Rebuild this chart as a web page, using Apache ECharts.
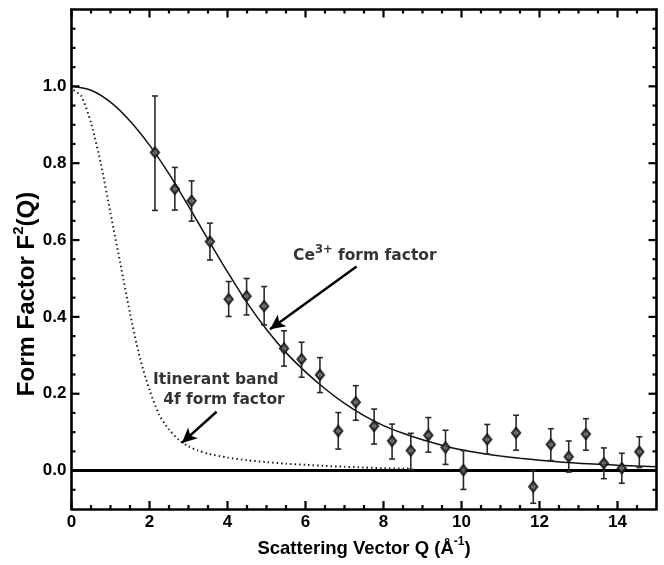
<!DOCTYPE html>
<html>
<head>
<meta charset="utf-8">
<script src="https://cdn.jsdelivr.net/npm/echarts@6/dist/echarts.min.js"></script>
<style>
html,body{margin:0;padding:0;background:#fff;}
#chart{width:664px;height:565px;}
</style>
</head>
<body>
<div id="chart"></div>
<script>
// ---- data ----
const qData   = [2.14, 2.65, 3.08, 3.55, 4.03, 4.49, 4.94, 5.45, 5.90, 6.37, 6.84, 7.29, 7.76, 8.22, 8.70, 9.15, 9.59, 10.05, 10.66, 11.40, 11.84, 12.29, 12.75, 13.19, 13.65, 14.11, 14.56];
const fData   = [0.828, 0.733, 0.702, 0.596, 0.446, 0.454, 0.428, 0.318, 0.290, 0.249, 0.103, 0.178, 0.116, 0.077, 0.052, 0.092, 0.060, 0.001, 0.081, 0.098, -0.042, 0.068, 0.036, 0.095, 0.019, 0.006, 0.049];
const errLow  = [0.677, 0.678, 0.649, 0.548, 0.401, 0.405, 0.379, 0.272, 0.243, 0.203, 0.056, 0.131, 0.069, 0.030, 0.003, 0.048, 0.016, -0.049, 0.043, 0.053, -0.085, 0.026, -0.004, 0.053, -0.021, -0.033, 0.008];
const errHigh = [0.975, 0.789, 0.754, 0.644, 0.492, 0.500, 0.479, 0.364, 0.334, 0.294, 0.151, 0.221, 0.160, 0.121, 0.097, 0.138, 0.105, 0.052, 0.120, 0.144, 0.000, 0.109, 0.077, 0.135, 0.059, 0.045, 0.088];

// Ce3+ form factor curve (solid)
const ceQ = [0, 0.5, 1.0, 1.5, 2.0, 2.5, 3.0, 3.5, 4.0, 4.5, 5.0, 5.5, 6.0, 6.5, 7.0, 7.5, 8.0, 8.5, 9.0, 9.5, 10.0, 10.5, 11.0, 11.5, 12.0, 13.0, 14.0, 15.0];
const ceF = [1.0, 0.99, 0.959, 0.91, 0.847, 0.772, 0.688, 0.602, 0.517, 0.437, 0.367, 0.307, 0.257, 0.213, 0.175, 0.143, 0.117, 0.097, 0.080, 0.066, 0.054, 0.045, 0.038, 0.032, 0.027, 0.019, 0.014, 0.010];

// Itinerant band 4f form factor (dotted)
const itQ = [0.05, 0.25, 0.5, 0.75, 1.0, 1.25, 1.5, 1.75, 2.0, 2.25, 2.5, 2.75, 3.0, 3.25, 3.5, 4.0, 4.5, 5.0, 5.5, 6.0, 6.5, 7.0, 7.5, 8.0, 8.7];
const itF = [0.99, 0.975, 0.905, 0.80, 0.67, 0.54, 0.41, 0.295, 0.21, 0.145, 0.107, 0.080, 0.063, 0.052, 0.044, 0.034, 0.027, 0.022, 0.018, 0.015, 0.012, 0.010, 0.008, 0.006, 0.005];

const zeroLineQ = [0, 15];

// axis ticks
const xMajor = [0, 2, 4, 6, 8, 10, 12, 14];
const xMinor = [0.5, 1, 1.5, 2.5, 3, 3.5, 4.5, 5, 5.5, 6.5, 7, 7.5, 8.5, 9, 9.5, 10.5, 11, 11.5, 12.5, 13, 13.5, 14.5];
const yMajor = [0, 0.2, 0.4, 0.6, 0.8, 1.0];
const yMinor = [-0.05, 0.05, 0.1, 0.15, 0.25, 0.3, 0.35, 0.45, 0.5, 0.55, 0.65, 0.7, 0.75, 0.85, 0.9, 0.95, 1.05, 1.1, 1.15];
const xRange = [0, 15];
const yRange = [-0.1, 1.2];

// annotation anchors (data coordinates)
const ceArrow = [[7.31, 0.531], [5.09, 0.368]];
const itArrow = [[3.72, 0.153], [2.83, 0.072]];
const ceLabelPos = [5.68, 0.559];
const itLabelPos1 = [2.09, 0.236];
const itLabelPos2 = [2.35, 0.184];

// ---- chart ----
const FONT = '"Liberation Sans", Arial, sans-serif';
const FONT2 = '"DejaVu Sans", sans-serif';
const MAJOR_LEN = 8, MINOR_LEN = 4;
const chart = echarts.init(document.getElementById('chart'), null, {renderer: 'canvas'});

function xAx(pos) {
  return {
    type: 'value', min: xRange[0], max: xRange[1], position: pos, interval: 2,
    axisLine: {show: true, onZero: false, lineStyle: {color: '#000', width: 2.6}},
    axisTick: {show: false},
    axisLabel: pos === 'bottom' ? {show: true, customValues: xMajor, color: '#000', fontFamily: FONT, fontWeight: 'bold', fontSize: 17, margin: 5}
                                : {show: false},
    splitLine: {show: false}
  };
}
function yAx(pos) {
  return {
    type: 'value', min: yRange[0], max: yRange[1], position: pos, interval: 0.1,
    axisLine: {show: true, onZero: false, lineStyle: {color: '#000', width: 2.6}},
    axisTick: {show: false},
    axisLabel: pos === 'left' ? {show: true, customValues: yMajor, color: '#000', fontFamily: FONT, fontWeight: 'bold', fontSize: 17, margin: 5,
                                  formatter: v => v.toFixed(1)}
                              : {show: false},
    splitLine: {show: false}
  };
}

// tick table built from the tick arrays: [value, isY, isMajor]
const tickData = []
  .concat(xMajor.map(v => [v, 0, 1]))
  .concat(xMinor.map(v => [v, 0, 0]))
  .concat(yMajor.map(v => [v, 1, 1]))
  .concat(yMinor.map(v => [v, 1, 0]));

const richBase = {
  b: {fontFamily: FONT2, fontWeight: 'bold', fontSize: 15.5, color: '#000', lineHeight: 24},
  s: {fontFamily: FONT2, fontWeight: 'bold', fontSize: 11.5, color: '#000', verticalAlign: 'top', lineHeight: 12}
};

const option = {
  animation: false,
  backgroundColor: '#fff',
  grid: {left: 71.5, right: 7.5, top: 9.5, bottom: 56},
  xAxis: [xAx('bottom'), xAx('top')],
  yAxis: [yAx('left'), yAx('right')],
  graphic: [
    {
      type: 'text', x: 364, y: 549,
      style: {
        text: '{b|Scattering Vector Q (Å}{s|-1}{b|)}',
        align: 'center', verticalAlign: 'middle',
        rich: {
          b: {fontFamily: FONT, fontWeight: 'bold', fontSize: 18.5, fill: '#000', lineHeight: 26},
          s: {fontFamily: FONT, fontWeight: 'bold', fontSize: 12, fill: '#000', verticalAlign: 'top', lineHeight: 12}
        }
      }
    },
    {
      type: 'text', x: 27, y: 294, rotation: Math.PI / 2,
      style: {
        text: '{b|Form Factor F}{s|2}{b|(Q)}',
        align: 'center', verticalAlign: 'middle',
        rich: {
          b: {fontFamily: FONT, fontWeight: 'bold', fontSize: 24, fill: '#000', lineHeight: 32},
          s: {fontFamily: FONT, fontWeight: 'bold', fontSize: 15, fill: '#000', verticalAlign: 'top', lineHeight: 15}
        }
      }
    }
  ],
  series: [
    {
      type: 'custom', name: 'ticks', xAxisIndex: 0, yAxisIndex: 0,
      data: tickData, clip: false, silent: true, z: 10,
      renderItem: function (params, api) {
        const v = api.value(0), isY = api.value(1), len = api.value(2) ? MAJOR_LEN : MINOR_LEN;
        const bl = api.coord([xRange[0], yRange[0]]);
        const tr = api.coord([xRange[1], yRange[1]]);
        const st = {stroke: '#000', lineWidth: 2.2};
        let a, b;
        if (!isY) {
          const x = api.coord([v, yRange[0]])[0];
          a = {x1: x, y1: bl[1], x2: x, y2: bl[1] - len};
          b = {x1: x, y1: tr[1], x2: x, y2: tr[1] + len};
        } else {
          const y = api.coord([xRange[0], v])[1];
          a = {x1: bl[0], y1: y, x2: bl[0] + len, y2: y};
          b = {x1: tr[0], y1: y, x2: tr[0] - len, y2: y};
        }
        return {type: 'group', children: [
          {type: 'line', shape: a, style: st},
          {type: 'line', shape: b, style: st}
        ]};
      }
    },
    {
      type: 'line', name: 'zero',
      data: zeroLineQ.map(q => [q, 0]),
      symbol: 'none', lineStyle: {color: '#000', width: 3}, z: 2, silent: true
    },
    {
      type: 'line', name: 'Ce3+',
      data: ceQ.map((q, i) => [q, ceF[i]]),
      smooth: 0.25, symbol: 'none', lineStyle: {color: '#111', width: 1.5}, z: 3, silent: true
    },
    {
      type: 'line', name: 'itinerant',
      data: itQ.map((q, i) => [q, itF[i]]),
      smooth: 0.25, symbol: 'none', lineStyle: {color: '#222', width: 2, type: [1.5, 3]}, z: 3, silent: true
    },
    {
      type: 'custom', name: 'err',
      data: qData.map((q, i) => [q, errLow[i], errHigh[i]]),
      renderItem: function (params, api) {
        const x = api.value(0);
        const lo = api.coord([x, api.value(1)]);
        const hi = api.coord([x, api.value(2)]);
        const w = 3;
        const st = {stroke: '#2a2a2a', lineWidth: 1.6};
        return {
          type: 'group',
          children: [
            {type: 'line', shape: {x1: lo[0], y1: lo[1], x2: hi[0], y2: hi[1]}, style: st},
            {type: 'line', shape: {x1: lo[0] - w, y1: lo[1], x2: lo[0] + w, y2: lo[1]}, style: st},
            {type: 'line', shape: {x1: hi[0] - w, y1: hi[1], x2: hi[0] + w, y2: hi[1]}, style: st}
          ]
        };
      },
      z: 4, silent: true
    },
    {
      type: 'scatter', name: 'data',
      data: qData.map((q, i) => [q, fData[i]]),
      symbol: 'diamond', symbolSize: [8, 10],
      itemStyle: {color: '#666', borderColor: '#111', borderWidth: 2.4},
      z: 5, silent: true,
      markLine: {
        silent: true, symbol: ['none', 'arrow'], symbolSize: [11, 15],
        label: {show: false},
        lineStyle: {color: '#000', width: 2.5, type: 'solid'},
        data: [
          [{coord: ceArrow[0]}, {coord: ceArrow[1]}],
          [{coord: itArrow[0]}, {coord: itArrow[1]}]
        ]
      }
    },
    {
      type: 'scatter', name: 'labels',
      symbolSize: 0, silent: true, z: 6,
      data: [
        {value: ceLabelPos, label: {formatter: '{b|Ce}{s|3+}{b| form factor}'}},
        {value: itLabelPos1, label: {formatter: '{b|Itinerant band}'}},
        {value: itLabelPos2, label: {formatter: '{b|4f form factor}'}}
      ],
      label: {show: true, position: 'right', distance: 0, rich: richBase}
    }
  ]
};
chart.setOption(option);
</script>
</body>
</html>
